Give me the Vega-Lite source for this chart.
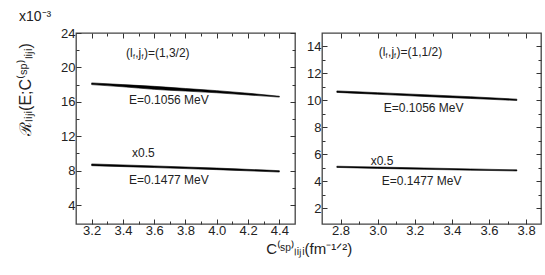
{
  "$schema": "https://vega.github.io/schema/vega-lite/v6.json",
  "padding": {"left": 16, "top": 9, "right": 5, "bottom": 5},
  "config": {
    "font": "Liberation Sans",
    "view": {"stroke": "#444", "strokeWidth": 1.3},
    "axis": {"domain": false, "grid": false, "labelFont": "Liberation Sans", "labelFontSize": 13, "labelColor": "#222", "tickColor": "#333", "tickWidth": 1},
    "text": {"font": "Liberation Sans", "color": "#222"}
  },
  "title": {"text": "C⁽ˢᵖ⁾ₗᵢⱼᵢ(fm⁻¹ᐟ²)", "orient": "bottom", "anchor": "middle", "dx": 30, "offset": 4, "fontSize": 15, "fontWeight": "normal", "font": "Liberation Sans", "color": "#222"},
  "spacing": 27,
  "bounds": "flush",
  "hconcat": [
    {
      "width": 219,
      "height": 191,
      "title": {"text": "x10⁻³", "anchor": "start", "fontSize": 14, "fontWeight": "normal", "offset": 3, "dx": 2, "color": "#222"},
      "layer": [
        {
          "data": {"values": [
            {"s": "a", "x": 3.2, "hi": 18.2, "lo": 18.0},
            {"s": "a", "x": 3.4, "hi": 18.0, "lo": 17.75},
            {"s": "a", "x": 3.6, "hi": 17.8, "lo": 17.45},
            {"s": "a", "x": 3.8, "hi": 17.55, "lo": 17.25},
            {"s": "a", "x": 4.0, "hi": 17.3, "lo": 17.05},
            {"s": "a", "x": 4.2, "hi": 17.0, "lo": 16.8},
            {"s": "a", "x": 4.4, "hi": 16.65, "lo": 16.55},
            {"s": "b", "x": 3.2, "hi": 8.78, "lo": 8.58},
            {"s": "b", "x": 3.6, "hi": 8.55, "lo": 8.36},
            {"s": "b", "x": 4.0, "hi": 8.3, "lo": 8.12},
            {"s": "b", "x": 4.4, "hi": 8.0, "lo": 7.84}
          ]},
          "mark": {"type": "area", "color": "black", "stroke": "black", "strokeWidth": 0.6, "interpolate": "monotone"},
          "encoding": {
            "x": {"field": "x", "type": "quantitative", "scale": {"domain": [3.1, 4.5], "nice": false, "zero": false},
              "axis": {"orient": "bottom", "title": null, "values": [3.2,3.3,3.4,3.5,3.6,3.7,3.8,3.9,4.0,4.1,4.2,4.3,4.4],
                "labelExpr": "abs(datum.value*5-round(datum.value*5))<0.001 ? format(datum.value,'.1f') : ''",
                "tickSize": {"condition": {"test": "abs(datum.value*5-round(datum.value*5))<0.001", "value": -5}, "value": -3},
                "labelPadding": 5}},
            "y": {"field": "hi", "type": "quantitative", "scale": {"domain": [1.8, 24], "nice": false, "zero": false},
              "axis": {"orient": "left", "values": [4,6,8,10,12,14,16,18,20,22,24],
                "labelExpr": "datum.value % 4 == 0 ? datum.value : ''",
                "tickSize": {"condition": {"test": "datum.value % 4 == 0", "value": -5}, "value": -3},
                "labelPadding": 6,
                "title": "ℛₗᵢⱼᵢ(E;C⁽ˢᵖ⁾ₗᵢⱼᵢ)", "titleFontSize": 16, "titleFontWeight": "normal", "titleColor": "#222",
                "titleX": -51, "titleY": 56, "titleAngle": -90, "titleAlign": "center", "titleBaseline": "middle"}},
            "y2": {"field": "lo"},
            "detail": {"field": "s"}
          }
        },
        {
          "data": {"values": [
            {"x": 3.42, "y": 21.7, "t": "(l"},
            {"x": 3.479, "y": 21.7, "t": ",j"},
            {"x": 3.534, "y": 21.7, "t": ")=(1,3/2)"},
            {"x": 3.439, "y": 16.2, "t": "E=0.1056 MeV"},
            {"x": 3.458, "y": 10.1, "t": "x0.5"},
            {"x": 3.439, "y": 6.9, "t": "E=0.1477 MeV"}
          ]},
          "mark": {"type": "text", "align": "left", "baseline": "middle", "fontSize": 12},
          "encoding": {
            "x": {"field": "x", "type": "quantitative",
              "axis": {"orient": "top", "title": null, "labels": false, "values": [3.2,3.3,3.4,3.5,3.6,3.7,3.8,3.9,4.0,4.1,4.2,4.3,4.4],
                "tickSize": {"condition": {"test": "abs(datum.value*5-round(datum.value*5))<0.001", "value": -5}, "value": -3}}},
            "y": {"field": "y", "type": "quantitative",
              "axis": {"orient": "right", "title": null, "labels": false, "values": [4,6,8,10,12,14,16,18,20,22,24],
                "tickSize": {"condition": {"test": "datum.value % 4 == 0", "value": -5}, "value": -3}}},
            "text": {"field": "t"}
          }
        },
        {
          "data": {"values": [
            {"x": 3.464, "y": 21.7, "t": "f"},
            {"x": 3.519, "y": 21.7, "t": "f"}
          ]},
          "mark": {"type": "text", "align": "left", "baseline": "middle", "fontSize": 7, "dy": 4},
          "encoding": {
            "x": {"field": "x", "type": "quantitative", "axis": null},
            "y": {"field": "y", "type": "quantitative", "axis": null},
            "text": {"field": "t"}
          }
        }
      ],
      "resolve": {"axis": {"x": "independent", "y": "independent"}}
    },
    {
      "width": 219,
      "height": 191,
      "layer": [
        {
          "data": {"values": [
            {"s": "a", "x": 2.78, "hi": 10.71, "lo": 10.6},
            {"s": "a", "x": 3.0, "hi": 10.58, "lo": 10.46},
            {"s": "a", "x": 3.25, "hi": 10.43, "lo": 10.3},
            {"s": "a", "x": 3.5, "hi": 10.28, "lo": 10.15},
            {"s": "a", "x": 3.75, "hi": 10.1, "lo": 10.0},
            {"s": "b", "x": 2.78, "hi": 5.13, "lo": 5.04},
            {"s": "b", "x": 3.0, "hi": 5.07, "lo": 4.97},
            {"s": "b", "x": 3.25, "hi": 5.0, "lo": 4.9},
            {"s": "b", "x": 3.5, "hi": 4.93, "lo": 4.84},
            {"s": "b", "x": 3.75, "hi": 4.86, "lo": 4.78}
          ]},
          "mark": {"type": "area", "color": "black", "stroke": "black", "strokeWidth": 0.6, "interpolate": "monotone"},
          "encoding": {
            "x": {"field": "x", "type": "quantitative", "scale": {"domain": [2.7, 3.88], "nice": false, "zero": false},
              "axis": {"orient": "bottom", "title": null, "values": [2.8,2.9,3.0,3.1,3.2,3.3,3.4,3.5,3.6,3.7,3.8],
                "labelExpr": "abs(datum.value*5-round(datum.value*5))<0.001 ? format(datum.value,'.1f') : ''",
                "tickSize": {"condition": {"test": "abs(datum.value*5-round(datum.value*5))<0.001", "value": -5}, "value": -3},
                "labelPadding": 5}},
            "y": {"field": "hi", "type": "quantitative", "scale": {"domain": [0.85, 15], "nice": false, "zero": false},
              "axis": {"orient": "left", "title": null, "values": [2,3,4,5,6,7,8,9,10,11,12,13,14],
                "labelExpr": "datum.value % 2 == 0 ? datum.value : ''",
                "tickSize": {"condition": {"test": "datum.value % 2 == 0", "value": -5}, "value": -3},
                "labelPadding": 6}},
            "y2": {"field": "lo"},
            "detail": {"field": "s"}
          }
        },
        {
          "data": {"values": [
            {"x": 3.006, "y": 13.58, "t": "(l"},
            {"x": 3.056, "y": 13.58, "t": ",j"},
            {"x": 3.102, "y": 13.58, "t": ")=(1,1/2)"},
            {"x": 3.033, "y": 9.42, "t": "E=0.1056 MeV"},
            {"x": 2.962, "y": 5.54, "t": "x0.5"},
            {"x": 3.022, "y": 4.0, "t": "E=0.1477 MeV"}
          ]},
          "mark": {"type": "text", "align": "left", "baseline": "middle", "fontSize": 12},
          "encoding": {
            "x": {"field": "x", "type": "quantitative",
              "axis": {"orient": "top", "title": null, "labels": false, "values": [2.8,2.9,3.0,3.1,3.2,3.3,3.4,3.5,3.6,3.7,3.8],
                "tickSize": {"condition": {"test": "abs(datum.value*5-round(datum.value*5))<0.001", "value": -5}, "value": -3}}},
            "y": {"field": "y", "type": "quantitative",
              "axis": {"orient": "right", "title": null, "labels": false, "values": [2,3,4,5,6,7,8,9,10,11,12,13,14],
                "tickSize": {"condition": {"test": "datum.value % 2 == 0", "value": -5}, "value": -3}}},
            "text": {"field": "t"}
          }
        },
        {
          "data": {"values": [
            {"x": 3.042, "y": 13.58, "t": "f"},
            {"x": 3.088, "y": 13.58, "t": "f"}
          ]},
          "mark": {"type": "text", "align": "left", "baseline": "middle", "fontSize": 7, "dy": 4},
          "encoding": {
            "x": {"field": "x", "type": "quantitative", "axis": null},
            "y": {"field": "y", "type": "quantitative", "axis": null},
            "text": {"field": "t"}
          }
        }
      ],
      "resolve": {"axis": {"x": "independent", "y": "independent"}}
    }
  ]
}
